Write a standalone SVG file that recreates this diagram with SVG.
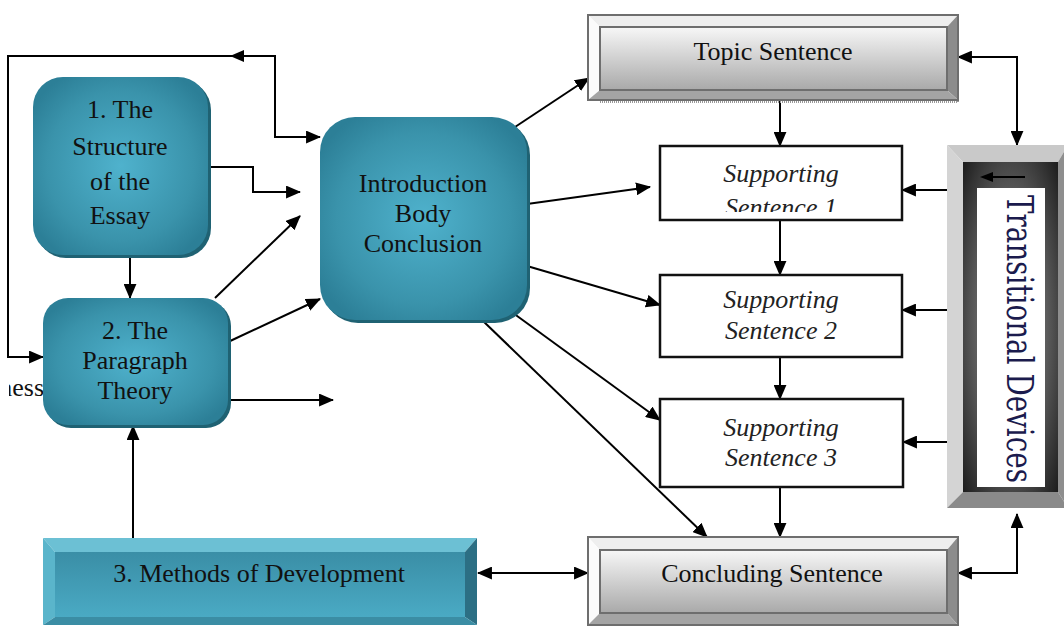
<svg xmlns="http://www.w3.org/2000/svg" width="1064" height="626" viewBox="0 0 1064 626">
<style>
  .t{font-family:"Liberation Serif","Times New Roman",serif;font-size:26px;fill:#111;text-anchor:middle}
  .i{font-style:italic;fill:#222}
  .c{fill:none;stroke:#000;stroke-width:2}
  .a{marker-end:url(#ah)}
  .b{marker-start:url(#ah);marker-end:url(#ah)}
  .ss{fill:#fff;stroke:#111;stroke-width:2.5}
  .tb{fill:#eeeeee}.lb{fill:#fbfbfb}.rb{fill:#8c8c8c}.bb{fill:#a4a4a4}
  .go{fill:none;stroke:#6e6e6e;stroke-width:2}
</style>
<defs>
  <marker id="ah" viewBox="0 0 14 12" markerWidth="15" markerHeight="13" refX="13" refY="6" orient="auto-start-reverse" markerUnits="userSpaceOnUse">
    <path d="M0,0 L14,6 L0,12 z" fill="#000"/>
  </marker>
  <radialGradient id="teal" cx="50%" cy="50%" r="60%">
    <stop offset="0" stop-color="#4fb2cd"/>
    <stop offset="0.7" stop-color="#3a93ab"/>
    <stop offset="1" stop-color="#2c7f97"/>
  </radialGradient>
  <linearGradient id="mface" x1="0" y1="0" x2="0" y2="1">
    <stop offset="0" stop-color="#3a8ea6"/>
    <stop offset="1" stop-color="#4aaac4"/>
  </linearGradient>
  <linearGradient id="gface" x1="0" y1="0" x2="0" y2="1">
    <stop offset="0" stop-color="#f7f7f7"/>
    <stop offset="1" stop-color="#a9a9a9"/>
  </linearGradient>
  <radialGradient id="dark" cx="50%" cy="50%" r="70%">
    <stop offset="0" stop-color="#9a9a9a"/>
    <stop offset="0.6" stop-color="#555"/>
    <stop offset="1" stop-color="#1e1e1e"/>
  </radialGradient>
  <clipPath id="ss1clip"><rect x="660" y="146" width="242" height="66"/></clipPath>
  <clipPath id="nessclip"><rect x="9" y="360" width="40" height="50"/></clipPath>
</defs>
<rect width="1064" height="626" fill="#fff"/>

<text class="t" x="44" y="396" style="text-anchor:end" clip-path="url(#nessclip)">ness</text>

<g id="connectors">
  <path class="c b" d="M43,357 H8 V56 H275 V137 H320"/>
  <path d="M230,56 L244,50 L244,62 z" fill="#000"/>
  <path class="c a" d="M208,167 H253 V192 H300"/>
  <path class="c a" d="M130,255 V298"/>
  <path class="c a" d="M215,298 L300,216"/>
  <path class="c a" d="M228,342 L320,299"/>
  <path class="c a" d="M228,400 H333"/>
  <path class="c a" d="M133,538 V426"/>
  <path class="c a" d="M515,127 L589,78"/>
  <path class="c a" d="M527,204 L650,187"/>
  <path class="c a" d="M527,266 L660,305"/>
  <path class="c a" d="M513,313 L660,420"/>
  <path class="c a" d="M482,320 L707,537"/>
  <path class="c a" d="M780,101 V146"/>
  <path class="c a" d="M780,220 V275"/>
  <path class="c a" d="M780,357 V399"/>
  <path class="c a" d="M780,487 V537"/>
  <path class="c a" d="M947,190 H902"/>
  <path class="c a" d="M947,310 H902"/>
  <path class="c a" d="M947,442 H903"/>
  <path class="c b" d="M958,57 H1017 V145"/>
  <path class="c b" d="M958,573 H1017 V514"/>
  <path class="c b" d="M478,573 H588"/>
</g>

<g id="n1">
  <rect x="36" y="80" width="175" height="178" rx="30" fill="#1f6273"/>
  <rect x="33" y="77" width="175" height="178" rx="30" fill="url(#teal)"/>
  <text class="t" x="120" y="118">1. The</text>
  <text class="t" x="120" y="155">Structure</text>
  <text class="t" x="120" y="190">of the</text>
  <text class="t" x="120" y="224">Essay</text>
</g>

<g id="n2">
  <rect x="46" y="301" width="185" height="127" rx="25" fill="#1f6273"/>
  <rect x="43" y="298" width="185" height="127" rx="25" fill="url(#teal)"/>
  <text class="t" x="135" y="339">2. The</text>
  <text class="t" x="135" y="369">Paragraph</text>
  <text class="t" x="135" y="399">Theory</text>
</g>

<g id="central">
  <rect x="323" y="120" width="207" height="203" rx="35" fill="#1f6273"/>
  <rect x="320" y="117" width="207" height="203" rx="35" fill="url(#teal)"/>
  <text class="t" x="423" y="192">Introduction</text>
  <text class="t" x="423" y="222">Body</text>
  <text class="t" x="423" y="252">Conclusion</text>
</g>

<g id="topic">
  <path d="M600,102 H958 V18" fill="none" stroke="#999" stroke-width="2" stroke-dasharray="1,1"/>
  <polygon class="tb" points="588,15 958,15 947,27 600,27"/>
  <polygon class="lb" points="588,15 600,27 600,90 588,100"/>
  <polygon class="rb" points="958,15 958,100 947,90 947,27"/>
  <polygon class="bb" points="588,100 600,90 947,90 958,100"/>
  <rect x="600" y="27" width="347" height="63" fill="url(#gface)"/>
  <rect class="go" x="588" y="15" width="370" height="85"/>
  <rect class="go" x="600" y="27" width="347" height="63"/>
  <text class="t" x="773" y="60">Topic Sentence</text>
</g>

<g id="ss1">
  <rect class="ss" x="660" y="146" width="242" height="74"/>
  <text class="t i" x="781" y="182">Supporting</text>
  <text class="t i" x="781" y="216" clip-path="url(#ss1clip)">Sentence 1</text>
</g>
<g id="ss2">
  <rect class="ss" x="660" y="275" width="242" height="82"/>
  <text class="t i" x="781" y="308">Supporting</text>
  <text class="t i" x="781" y="339">Sentence 2</text>
</g>
<g id="ss3">
  <rect class="ss" x="660" y="399" width="243" height="88"/>
  <text class="t i" x="781" y="436">Supporting</text>
  <text class="t i" x="781" y="466">Sentence 3</text>
</g>

<g id="concluding">
  <polygon class="tb" points="588,537 958,537 947,550 600,550"/>
  <polygon class="lb" points="588,537 600,550 600,613 588,625"/>
  <polygon class="rb" points="958,537 958,625 947,613 947,550"/>
  <polygon class="bb" points="588,625 600,613 947,613 958,625"/>
  <rect x="600" y="550" width="347" height="63" fill="url(#gface)"/>
  <rect class="go" x="588" y="537" width="370" height="88"/>
  <rect class="go" x="600" y="550" width="347" height="63"/>
  <text class="t" x="772" y="582">Concluding Sentence</text>
</g>

<g id="methods">
  <polygon points="43,538 477,538 465,552 55,552" fill="#6cc0d4"/>
  <polygon points="43,538 55,552 55,617 43,625" fill="#5ab5cb"/>
  <polygon points="477,538 477,625 465,617 465,552" fill="#2c6f84"/>
  <polygon points="43,625 55,617 465,617 477,625" fill="#3b8da4"/>
  <rect x="55" y="552" width="410" height="65" fill="url(#mface)"/>
  <text class="t" x="259" y="582">3. Methods of Development</text>
</g>

<g id="transitional">
  <polygon points="947,145 1068,145 1058,162 963,162" fill="#c9c9c9"/>
  <polygon points="947,145 963,162 963,492 947,508" fill="#d4d4d4"/>
  <polygon points="1068,145 1068,508 1058,492 1058,162" fill="#8e8e8e"/>
  <polygon points="947,508 963,492 1058,492 1068,508" fill="#8a8a8a"/>
  <rect x="963" y="162" width="95" height="330" fill="url(#dark)"/>
  <rect x="977" y="188" width="68" height="299" fill="#fff"/>
  <path d="M1025,177 H992" stroke="#000" stroke-width="2"/>
  <path d="M980,177 L993,172 L993,182 z" fill="#000"/>
  <text x="0" y="0" transform="translate(1007,195) rotate(90)" font-family="'DejaVu Serif',serif" font-size="37" fill="#1b1b4d" textLength="288" lengthAdjust="spacingAndGlyphs">Transitional Devices</text>
</g>
</svg>
